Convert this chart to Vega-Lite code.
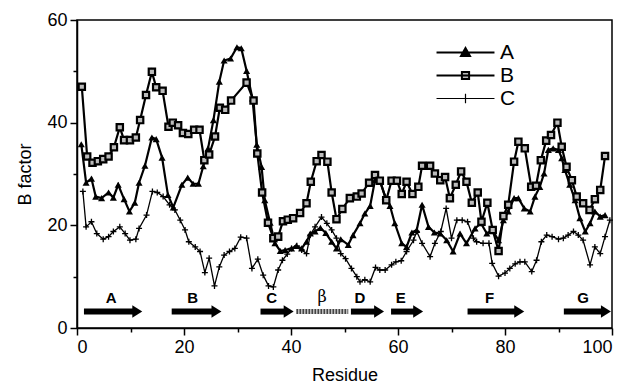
{
  "$schema": "https://vega.github.io/schema/vega-lite/v6.json",
  "width": 535,
  "height": 308,
  "autosize": "none",
  "padding": {"left": 77, "top": 20, "right": 20, "bottom": 62},
  "background": "white",
  "config": {
    "font": "Liberation Sans",
    "view": {"stroke": "black", "strokeWidth": 1.5},
    "axis": {
      "domainColor": "black", "domainWidth": 1.5, "tickColor": "black", "tickWidth": 1.5,
      "labelFont": "Liberation Sans", "labelFontSize": 18, "labelColor": "black",
      "titleFont": "Liberation Sans", "titleFontSize": 18, "titleFontWeight": "normal", "titleColor": "black",
      "grid": false
    }
  },
  "datasets": {
    "bf": [
      {"s":"A","r":0.8,"v":35.8},{"s":"A","r":1.7,"v":28.3},{"s":"A","r":2.7,"v":29.1},{"s":"A","r":3.5,"v":25.6},{"s":"A","r":4.6,"v":25.3},{"s":"A","r":5.9,"v":26.4},{"s":"A","r":6.8,"v":25.4},{"s":"A","r":7.7,"v":27.9},{"s":"A","r":8.8,"v":25.1},{"s":"A","r":9.8,"v":22.7},{"s":"A","r":10.8,"v":24.4},{"s":"A","r":11.6,"v":28.3},{"s":"A","r":12.7,"v":31.6},{"s":"A","r":14.0,"v":37.1},{"s":"A","r":14.8,"v":36.8},{"s":"A","r":15.9,"v":33.2},{"s":"A","r":17.0,"v":25.9},{"s":"A","r":18.0,"v":23.5},{"s":"A","r":19.6,"v":27.9},{"s":"A","r":20.7,"v":29.3},{"s":"A","r":21.7,"v":28.1},{"s":"A","r":22.7,"v":28.1},{"s":"A","r":23.6,"v":31.5},{"s":"A","r":24.5,"v":35.0},{"s":"A","r":25.5,"v":40.5},{"s":"A","r":26.6,"v":48.0},{"s":"A","r":27.5,"v":52.1},{"s":"A","r":28.7,"v":52.5},{"s":"A","r":29.9,"v":54.7},{"s":"A","r":30.7,"v":54.5},{"s":"A","r":31.7,"v":50.1},{"s":"A","r":32.8,"v":44.7},{"s":"A","r":33.6,"v":35.7},{"s":"A","r":34.5,"v":31.4},{"s":"A","r":35.1,"v":24.9},{"s":"A","r":36.1,"v":20.5},{"s":"A","r":37.0,"v":16.5},{"s":"A","r":38.0,"v":15.0},{"s":"A","r":38.9,"v":15.2},{"s":"A","r":40.1,"v":15.5},{"s":"A","r":41.0,"v":16.0},{"s":"A","r":42.0,"v":15.5},{"s":"A","r":42.9,"v":16.8},{"s":"A","r":43.6,"v":18.4},{"s":"A","r":44.5,"v":18.8},{"s":"A","r":45.5,"v":19.5},{"s":"A","r":46.5,"v":18.5},{"s":"A","r":47.6,"v":16.8},{"s":"A","r":48.5,"v":15.5},{"s":"A","r":49.3,"v":17.3},{"s":"A","r":50.7,"v":16.2},{"s":"A","r":51.6,"v":18.1},{"s":"A","r":52.9,"v":20.4},{"s":"A","r":53.8,"v":22.3},{"s":"A","r":54.8,"v":23.8},{"s":"A","r":55.7,"v":28.8},{"s":"A","r":56.6,"v":28.8},{"s":"A","r":57.6,"v":25.6},{"s":"A","r":58.5,"v":23.8},{"s":"A","r":59.4,"v":20.4},{"s":"A","r":60.7,"v":16.5},{"s":"A","r":61.6,"v":15.8},{"s":"A","r":62.6,"v":18.6},{"s":"A","r":63.5,"v":19.1},{"s":"A","r":64.5,"v":24.0},{"s":"A","r":65.7,"v":19.7},{"s":"A","r":66.8,"v":18.6},{"s":"A","r":67.9,"v":18.4},{"s":"A","r":69.1,"v":17.1},{"s":"A","r":70.3,"v":14.9},{"s":"A","r":71.6,"v":18.4},{"s":"A","r":72.8,"v":16.5},{"s":"A","r":74.4,"v":19.4},{"s":"A","r":75.5,"v":20.4},{"s":"A","r":76.6,"v":18.4},{"s":"A","r":77.6,"v":19.1},{"s":"A","r":78.8,"v":17.1},{"s":"A","r":79.7,"v":21.0},{"s":"A","r":80.6,"v":22.7},{"s":"A","r":81.7,"v":25.3},{"s":"A","r":82.5,"v":25.3},{"s":"A","r":83.6,"v":23.3},{"s":"A","r":84.7,"v":22.7},{"s":"A","r":85.6,"v":25.6},{"s":"A","r":86.5,"v":27.5},{"s":"A","r":87.3,"v":30.1},{"s":"A","r":88.1,"v":34.7},{"s":"A","r":89.0,"v":35.0},{"s":"A","r":90.0,"v":34.7},{"s":"A","r":90.6,"v":33.1},{"s":"A","r":91.2,"v":30.8},{"s":"A","r":92.1,"v":27.9},{"s":"A","r":93.1,"v":24.9},{"s":"A","r":94.0,"v":21.4},{"s":"A","r":95.0,"v":18.8},{"s":"A","r":95.9,"v":20.4},{"s":"A","r":96.8,"v":22.7},{"s":"A","r":97.8,"v":21.7},{"s":"A","r":98.7,"v":22.0},
      {"s":"B","r":0.9,"v":47.0},{"s":"B","r":1.9,"v":33.4},{"s":"B","r":2.9,"v":32.2},{"s":"B","r":3.9,"v":32.5},{"s":"B","r":4.9,"v":32.9},{"s":"B","r":5.9,"v":33.4},{"s":"B","r":6.9,"v":35.2},{"s":"B","r":8.0,"v":39.1},{"s":"B","r":8.8,"v":36.6},{"s":"B","r":9.9,"v":36.6},{"s":"B","r":11.0,"v":37.1},{"s":"B","r":11.8,"v":40.5},{"s":"B","r":12.9,"v":45.4},{"s":"B","r":14.0,"v":49.9},{"s":"B","r":14.8,"v":46.9},{"s":"B","r":16.0,"v":46.2},{"s":"B","r":17.1,"v":39.2},{"s":"B","r":17.9,"v":40.0},{"s":"B","r":18.9,"v":39.5},{"s":"B","r":19.8,"v":38.0},{"s":"B","r":20.8,"v":37.8},{"s":"B","r":21.9,"v":38.6},{"s":"B","r":22.9,"v":38.6},{"s":"B","r":23.8,"v":32.7},{"s":"B","r":24.7,"v":33.8},{"s":"B","r":25.8,"v":37.3},{"s":"B","r":26.7,"v":42.9},{"s":"B","r":27.7,"v":42.5},{"s":"B","r":28.8,"v":44.3},{"s":"B","r":31.7,"v":47.8},{"s":"B","r":33.0,"v":44.3},{"s":"B","r":33.7,"v":34.0},{"s":"B","r":34.6,"v":26.4},{"s":"B","r":35.7,"v":20.5},{"s":"B","r":36.7,"v":17.5},{"s":"B","r":37.6,"v":17.8},{"s":"B","r":38.5,"v":20.8},{"s":"B","r":39.4,"v":21.1},{"s":"B","r":40.4,"v":21.4},{"s":"B","r":41.7,"v":22.4},{"s":"B","r":42.9,"v":24.3},{"s":"B","r":43.7,"v":28.5},{"s":"B","r":44.8,"v":32.5},{"s":"B","r":45.7,"v":33.7},{"s":"B","r":46.8,"v":32.4},{"s":"B","r":47.6,"v":26.4},{"s":"B","r":48.5,"v":21.2},{"s":"B","r":49.6,"v":23.2},{"s":"B","r":51.0,"v":25.3},{"s":"B","r":52.3,"v":25.6},{"s":"B","r":53.2,"v":26.2},{"s":"B","r":54.6,"v":28.3},{"s":"B","r":55.7,"v":29.8},{"s":"B","r":56.6,"v":28.7},{"s":"B","r":57.8,"v":24.9},{"s":"B","r":58.8,"v":28.7},{"s":"B","r":59.8,"v":28.7},{"s":"B","r":60.7,"v":26.1},{"s":"B","r":61.6,"v":28.5},{"s":"B","r":62.7,"v":26.1},{"s":"B","r":63.8,"v":27.5},{"s":"B","r":64.5,"v":31.6},{"s":"B","r":66.0,"v":31.6},{"s":"B","r":66.9,"v":30.1},{"s":"B","r":67.9,"v":28.8},{"s":"B","r":68.8,"v":29.4},{"s":"B","r":69.7,"v":25.3},{"s":"B","r":70.8,"v":27.9},{"s":"B","r":71.8,"v":30.5},{"s":"B","r":72.8,"v":28.5},{"s":"B","r":73.8,"v":24.4},{"s":"B","r":74.9,"v":26.4},{"s":"B","r":75.6,"v":20.7},{"s":"B","r":76.7,"v":24.4},{"s":"B","r":77.7,"v":19.1},{"s":"B","r":78.8,"v":15.0},{"s":"B","r":79.7,"v":21.8},{"s":"B","r":80.6,"v":24.0},{"s":"B","r":81.7,"v":32.4},{"s":"B","r":82.5,"v":36.3},{"s":"B","r":83.7,"v":35.0},{"s":"B","r":84.9,"v":27.5},{"s":"B","r":85.8,"v":27.7},{"s":"B","r":86.7,"v":32.7},{"s":"B","r":87.7,"v":36.5},{"s":"B","r":88.6,"v":37.6},{"s":"B","r":89.8,"v":40.0},{"s":"B","r":90.6,"v":35.3},{"s":"B","r":91.5,"v":31.4},{"s":"B","r":92.5,"v":28.8},{"s":"B","r":93.4,"v":25.6},{"s":"B","r":94.6,"v":24.3},{"s":"B","r":95.8,"v":23.0},{"s":"B","r":96.8,"v":25.1},{"s":"B","r":97.8,"v":26.9},{"s":"B","r":98.7,"v":33.5},
      {"s":"C","r":1.1,"v":26.6},{"s":"C","r":1.7,"v":19.7},{"s":"C","r":2.7,"v":20.7},{"s":"C","r":3.7,"v":18.4},{"s":"C","r":4.9,"v":17.3},{"s":"C","r":5.9,"v":17.8},{"s":"C","r":6.8,"v":18.8},{"s":"C","r":8.0,"v":19.7},{"s":"C","r":9.0,"v":18.4},{"s":"C","r":9.9,"v":17.1},{"s":"C","r":11.0,"v":17.3},{"s":"C","r":11.6,"v":19.4},{"s":"C","r":13.0,"v":22.0},{"s":"C","r":14.1,"v":26.6},{"s":"C","r":15.0,"v":26.4},{"s":"C","r":16.1,"v":25.6},{"s":"C","r":17.3,"v":24.0},{"s":"C","r":18.3,"v":23.0},{"s":"C","r":19.3,"v":21.0},{"s":"C","r":20.2,"v":19.1},{"s":"C","r":20.9,"v":16.8},{"s":"C","r":22.1,"v":15.8},{"s":"C","r":23.0,"v":14.9},{"s":"C","r":23.9,"v":10.8},{"s":"C","r":24.7,"v":13.6},{"s":"C","r":25.7,"v":8.2},{"s":"C","r":26.6,"v":11.9},{"s":"C","r":27.5,"v":14.2},{"s":"C","r":28.5,"v":14.9},{"s":"C","r":29.5,"v":15.5},{"s":"C","r":30.6,"v":17.7},{"s":"C","r":31.7,"v":17.5},{"s":"C","r":32.7,"v":11.6},{"s":"C","r":33.8,"v":13.4},{"s":"C","r":34.8,"v":10.3},{"s":"C","r":35.8,"v":8.2},{"s":"C","r":36.7,"v":8.0},{"s":"C","r":37.6,"v":11.3},{"s":"C","r":38.4,"v":13.2},{"s":"C","r":39.3,"v":14.4},{"s":"C","r":40.1,"v":15.5},{"s":"C","r":41.1,"v":16.0},{"s":"C","r":42.0,"v":15.2},{"s":"C","r":42.9,"v":14.5},{"s":"C","r":43.6,"v":18.1},{"s":"C","r":44.5,"v":19.7},{"s":"C","r":45.7,"v":21.6},{"s":"C","r":46.7,"v":20.4},{"s":"C","r":47.6,"v":19.1},{"s":"C","r":48.5,"v":17.5},{"s":"C","r":49.3,"v":14.5},{"s":"C","r":50.2,"v":13.5},{"s":"C","r":51.3,"v":11.6},{"s":"C","r":52.3,"v":10.0},{"s":"C","r":52.9,"v":9.0},{"s":"C","r":53.8,"v":9.4},{"s":"C","r":54.8,"v":9.0},{"s":"C","r":55.8,"v":11.8},{"s":"C","r":56.6,"v":11.3},{"s":"C","r":57.6,"v":11.3},{"s":"C","r":58.8,"v":12.3},{"s":"C","r":59.6,"v":12.9},{"s":"C","r":60.6,"v":13.1},{"s":"C","r":61.6,"v":14.9},{"s":"C","r":62.9,"v":17.1},{"s":"C","r":63.5,"v":18.8},{"s":"C","r":64.5,"v":16.5},{"s":"C","r":66.0,"v":13.9},{"s":"C","r":66.9,"v":16.5},{"s":"C","r":68.0,"v":18.8},{"s":"C","r":69.0,"v":23.3},{"s":"C","r":70.0,"v":17.5},{"s":"C","r":71.0,"v":21.0},{"s":"C","r":72.0,"v":21.0},{"s":"C","r":73.0,"v":20.7},{"s":"C","r":74.1,"v":17.5},{"s":"C","r":74.7,"v":16.8},{"s":"C","r":75.9,"v":16.5},{"s":"C","r":77.0,"v":16.5},{"s":"C","r":77.6,"v":12.6},{"s":"C","r":78.8,"v":10.1},{"s":"C","r":80.0,"v":10.7},{"s":"C","r":80.9,"v":11.6},{"s":"C","r":81.9,"v":12.5},{"s":"C","r":82.8,"v":12.9},{"s":"C","r":83.7,"v":12.9},{"s":"C","r":85.0,"v":11.0},{"s":"C","r":85.9,"v":13.2},{"s":"C","r":86.8,"v":16.8},{"s":"C","r":87.8,"v":18.1},{"s":"C","r":88.8,"v":17.8},{"s":"C","r":90.0,"v":17.3},{"s":"C","r":90.9,"v":17.5},{"s":"C","r":91.8,"v":18.1},{"s":"C","r":92.8,"v":18.8},{"s":"C","r":93.7,"v":18.1},{"s":"C","r":94.6,"v":17.1},{"s":"C","r":95.9,"v":12.3},{"s":"C","r":96.8,"v":15.8},{"s":"C","r":97.8,"v":14.5},{"s":"C","r":98.7,"v":17.8},{"s":"C","r":99.6,"v":21.0}
    ],
    "ss": [
      {"name":"A","start":1.3,"end":12.2,"mid":6.4,"kind":"strand"},
      {"name":"B","start":17.7,"end":27.0,"mid":21.6,"kind":"strand"},
      {"name":"C","start":34.3,"end":40.5,"mid":36.4,"kind":"strand"},
      {"name":"β","start":41.0,"end":50.7,"mid":45.8,"kind":"bulge"},
      {"name":"D","start":51.2,"end":57.4,"mid":52.9,"kind":"strand"},
      {"name":"E","start":58.7,"end":64.7,"mid":60.5,"kind":"strand"},
      {"name":"F","start":73.0,"end":83.6,"mid":77.1,"kind":"strand"},
      {"name":"G","start":91.0,"end":99.8,"mid":94.6,"kind":"strand"}
    ]
  },
  "layer": [
    {
      "data": {"name": "bf"},
      "mark": {"type": "line", "clip": true},
      "encoding": {
        "x": {"field": "r", "type": "quantitative", "scale": {"domain": [0, 100], "nice": false},
          "axis": {"title": "Residue", "values": [0,10,20,30,40,50,60,70,80,90,100],
            "labelExpr": "datum.value % 20 === 0 ? datum.label : ''",
            "tickSize": {"condition": {"test": "datum.value % 20 === 0", "value": 7}, "value": 4},
            "labelPadding": 3, "titlePadding": 10}},
        "y": {"field": "v", "type": "quantitative", "scale": {"domain": [0, 60], "nice": false},
          "axis": {"title": "B factor", "values": [0,5,10,15,20,25,30,35,40,45,50,55,60],
            "labelExpr": "datum.value % 20 === 0 ? datum.label : ''",
            "tickSize": {"condition": {"test": "datum.value % 20 === 0", "value": 7}, "value": 4},
            "labelPadding": 3, "titlePadding": 12}},
        "color": {"field": "s", "type": "nominal",
          "scale": {"domain": ["A", "B", "C"], "range": ["black", "black", "black"]},
          "legend": {
            "title": null, "orient": "none", "legendX": 378, "legendY": 22, "padding": 0,
            "labelFontSize": 21, "labelFont": "Liberation Sans", "labelColor": "black", "labelOffset": 24,
            "symbolSize": 144, "rowPadding": 1,
            "encode": {"symbols": {"update": {
              "shape": {"signal": "datum.value === 'A' ? 'M-4.83,0L4.83,0M-0.75,0.6L0,-0.75L0.75,0.6Z' : datum.value === 'B' ? 'M-4.83,0L4.83,0M-0.6,-0.6L0.6,-0.6L0.6,0.6L-0.6,0.6Z' : 'M-4.83,0L4.83,0M0,-0.8L0,0.8'"},
              "fill": {"signal": "datum.value === 'A' ? 'black' : datum.value === 'B' ? '#bbbbbb' : 'transparent'"},
              "stroke": {"value": "black"},
              "strokeWidth": {"signal": "datum.value === 'C' ? 1.2 : 2"},
              "opacity": {"value": 1}
            }}}
          }},
        "strokeWidth": {"condition": {"test": "datum.s === 'C'", "value": 1.3}, "value": 2.2}
      }
    },
    {
      "data": {"name": "bf"},
      "transform": [{"filter": "datum.s === 'A'"}],
      "mark": {"type": "point", "shape": "triangle-up", "filled": true, "color": "black", "size": 50, "opacity": 1},
      "encoding": {"x": {"field": "r", "type": "quantitative"}, "y": {"field": "v", "type": "quantitative"}}
    },
    {
      "data": {"name": "bf"},
      "transform": [{"filter": "datum.s === 'B'"}],
      "mark": {"type": "point", "shape": "square", "filled": true, "fill": "#bbbbbb", "stroke": "black", "strokeWidth": 2.2, "size": 40, "opacity": 1},
      "encoding": {"x": {"field": "r", "type": "quantitative"}, "y": {"field": "v", "type": "quantitative"}}
    },
    {
      "data": {"name": "bf"},
      "transform": [{"filter": "datum.s === 'C'"}],
      "mark": {"type": "point", "shape": "M0,-1L0,1M-1,0L1,0", "filled": false, "stroke": "black", "strokeWidth": 1.3, "size": 36, "opacity": 1},
      "encoding": {"x": {"field": "r", "type": "quantitative"}, "y": {"field": "v", "type": "quantitative"}}
    },
    {
      "data": {"name": "ss"},
      "transform": [{"filter": "datum.kind === 'strand'"}],
      "mark": {"type": "rule", "strokeWidth": 6, "color": "black", "x2Offset": -7},
      "encoding": {"x": {"field": "start", "type": "quantitative"}, "x2": {"field": "end"}, "y": {"datum": 3.2}}
    },
    {
      "data": {"name": "ss"},
      "transform": [{"filter": "datum.kind === 'strand'"}],
      "mark": {"type": "point", "shape": "M-0.83,-1.05L0.83,0L-0.83,1.05Z", "filled": true, "color": "black", "size": 144, "xOffset": -5, "opacity": 1},
      "encoding": {"x": {"field": "end", "type": "quantitative"}, "y": {"datum": 3.2}}
    },
    {
      "data": {"name": "ss"},
      "transform": [{"filter": "datum.kind === 'bulge'"}],
      "mark": {"type": "rule", "strokeWidth": 5, "color": "#444444", "strokeDash": [2, 1]},
      "encoding": {"x": {"field": "start", "type": "quantitative"}, "x2": {"field": "end"}, "y": {"datum": 3.2}}
    },
    {
      "data": {"name": "ss"},
      "transform": [{"filter": "datum.kind === 'strand'"}],
      "mark": {"type": "text", "fontSize": 15, "fontWeight": "bold", "font": "Liberation Sans", "color": "black", "baseline": "middle"},
      "encoding": {"x": {"field": "mid", "type": "quantitative"}, "y": {"datum": 5.9}, "text": {"field": "name"}}
    },
    {
      "data": {"name": "ss"},
      "transform": [{"filter": "datum.kind === 'bulge'"}],
      "mark": {"type": "text", "fontSize": 16, "font": "DejaVu Serif", "color": "black", "baseline": "middle"},
      "encoding": {"x": {"field": "mid", "type": "quantitative"}, "y": {"datum": 6.1}, "text": {"field": "name"}}
    }
  ]
}
